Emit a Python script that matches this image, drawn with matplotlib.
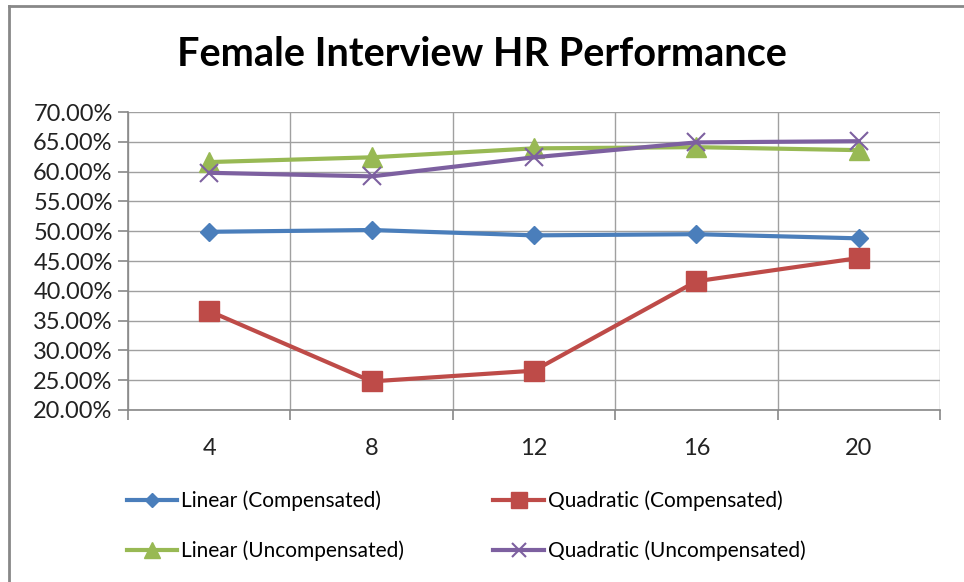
import matplotlib
matplotlib.use('Agg')
import matplotlib.pyplot as plt
from matplotlib.lines import Line2D
from matplotlib.ticker import FuncFormatter

# --- data ---
categories = ['4', '8', '12', '16', '20']
linear_comp = [49.9, 50.2, 49.3, 49.5, 48.8]
quad_comp = [36.6, 24.8, 26.6, 41.6, 45.5]
linear_uncomp = [61.6, 62.4, 63.9, 64.1, 63.6]
quad_uncomp = [59.8, 59.2, 62.4, 64.9, 65.1]

plt.rcParams['font.family'] = ['Lato', 'DejaVu Sans']

fig = plt.figure(figsize=(9.64, 5.82), dpi=100)
ax = fig.add_axes([128 / 964, 1 - 410 / 582, (940 - 128) / 964, (410 - 112) / 582])

x = list(range(len(categories)))
h1, = ax.plot(x, linear_comp, color='#4A7EBB', lw=3, marker='D', ms=9, label='Linear (Compensated)')
h2, = ax.plot(x, quad_comp, color='#BE4B48', lw=3, marker='s', ms=14, label='Quadratic (Compensated)')
h3, = ax.plot(x, linear_uncomp, color='#98B954', lw=3, marker='^', ms=14, label='Linear (Uncompensated)')
h4, = ax.plot(x, quad_uncomp, color='#7D60A0', lw=3, marker='x', ms=13, mew=1.5, label='Quadratic (Uncompensated)')

# axes like Excel
ax.set_xlim(-0.5, len(categories) - 0.5)
ax.set_ylim(20, 70)
ax.set_yticks(range(20, 71, 5))
ax.yaxis.set_major_formatter(FuncFormatter(lambda v, p: f'{v:.2f}%'))
ax.set_xticks(x)
ax.set_xticklabels(categories)
ax.set_xticks([i - 0.5 for i in range(len(categories) + 1)], minor=True)
ax.tick_params(axis='x', which='major', length=0, pad=20, labelsize=17, labelcolor='#222222')
ax.tick_params(axis='x', which='minor', length=7, color='#888888', width=1.2, direction='out')
ax.tick_params(axis='y', length=7, color='#888888', width=1.2, labelsize=17, labelcolor='#222222', pad=4)

ax.grid(True, axis='y', color='#a0a0a0', lw=1)
ax.grid(True, axis='x', which='minor', color='#a0a0a0', lw=1)
ax.set_axisbelow(True)
for s in ['top', 'right']:
    ax.spines[s].set_visible(False)
for s in ['left', 'bottom']:
    ax.spines[s].set_color('#888888')
    ax.spines[s].set_linewidth(1.2)

fig.text(0.5, 1 - 55 / 582, 'Female Interview HR Performance', ha='center', va='center',
         fontsize=28.5, fontweight='bold', color='black')

# legend filled row by row like Excel
fig.legend([h1, h3, h2, h4], [h.get_label() for h in (h1, h3, h2, h4)],
           loc='upper left', bbox_to_anchor=(108 / 964, 1 - 472 / 582),
           ncol=2, frameon=False, fontsize=15, handlelength=2.4, handletextpad=0.2,
           columnspacing=4.3, labelspacing=1.4, markerscale=0.8)

# outer chart frame (top and left visible)
fig.add_artist(Line2D([9 / 964, 1], [1 - 6 / 582, 1 - 6 / 582], transform=fig.transFigure, color='#888888', lw=2))
fig.add_artist(Line2D([9 / 964, 9 / 964], [0, 1 - 6 / 582], transform=fig.transFigure, color='#888888', lw=2))

fig.savefig('out.png', dpi=100)
